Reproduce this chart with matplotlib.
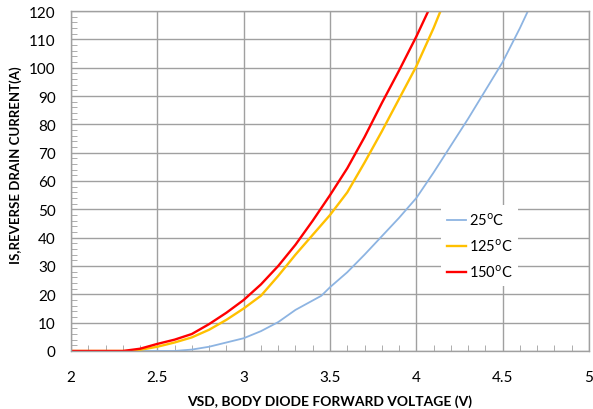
import matplotlib.pyplot as plt
from matplotlib.ticker import MultipleLocator

# forward voltage (V) and reverse drain current (A)
vsd_25 = [2.0, 2.6, 2.7, 2.8, 2.9, 3.0, 3.1, 3.2, 3.3, 3.45, 3.5, 3.6, 3.7, 3.8,
          3.9, 4.0, 4.1, 4.2, 4.3, 4.4, 4.5, 4.6, 4.7]
is_25 = [0, 0, 0.5, 1.5, 3, 4.5, 7, 10.2, 14.5, 19.5, 22.5, 27.8, 34, 40.5,
         47, 54, 63, 72.5, 82, 92, 102, 114, 127]

vsd_125 = [2.0, 2.35, 2.4, 2.5, 2.6, 2.7, 2.8, 2.9, 3.0, 3.1, 3.2, 3.3, 3.4,
           3.5, 3.6, 3.7, 3.8, 3.9, 4.0, 4.1, 4.2]
is_125 = [0, 0, 0.4, 1.5, 3, 4.8, 7.5, 11, 15, 19.5, 26.5, 34, 41, 48,
          56, 66.5, 77.5, 89, 100.5, 114, 129]

vsd_150 = [2.0, 2.3, 2.4, 2.5, 2.6, 2.7, 2.8, 2.9, 3.0, 3.1, 3.2, 3.3, 3.4,
           3.5, 3.6, 3.7, 3.8, 3.9, 4.0, 4.1]
is_150 = [0, 0, 0.8, 2.5, 4, 6, 9.5, 13.5, 18, 23.5, 30, 37.5, 46,
          55, 64.5, 75.5, 87.5, 99, 111, 124]

fig = plt.figure(figsize=(5.93, 4.10), dpi=100)
ax = fig.add_axes([0.1197, 0.1415, 0.8736, 0.8292])

ax.plot(vsd_25, is_25, color='#8DB4E2', lw=1.3, label='25$^{\\mathrm{o}}$C')
ax.plot(vsd_125, is_125, color='#FFC000', lw=1.7, label='125$^{\\mathrm{o}}$C')
ax.plot(vsd_150, is_150, color='#FF0000', lw=1.7, label='150$^{\\mathrm{o}}$C')

ax.set_xlim(2, 5)
ax.set_ylim(0, 120)
ax.xaxis.set_major_locator(MultipleLocator(0.5))
ax.xaxis.set_minor_locator(MultipleLocator(0.1))
ax.yaxis.set_major_locator(MultipleLocator(10))
ax.yaxis.set_minor_locator(MultipleLocator(2))
ax.set_xticks([2, 2.5, 3, 3.5, 4, 4.5, 5], ['2', '2.5', '3', '3.5', '4', '4.5', '5'])

ax.grid(True, which='major', color='#A0A0A0', lw=1)
ax.set_axisbelow(True)
for s in ax.spines.values():
    s.set_color('#A0A0A0')
    s.set_linewidth(1)
ax.tick_params(which='major', length=0, labelsize=11, pad=11, labelcolor='black')
ax.tick_params(which='minor', direction='in', length=4, color='#A0A0A0')
ax.tick_params(axis='x', which='major', pad=14)

font = ['Lato', 'DejaVu Sans']
for lbl in ax.get_xticklabels() + ax.get_yticklabels():
    lbl.set_family(font)

ax.set_xlabel('VSD, BODY DIODE FORWARD VOLTAGE (V)', fontsize=10,
              fontweight='bold', family=font, labelpad=7)
ax.set_ylabel('IS,REVERSE DRAIN CURRENT(A)', fontsize=9.5,
              fontweight='bold', family=font, va='center')
ax.yaxis.set_label_coords(-0.106, 0.55)

leg = ax.legend(loc='upper left', bbox_to_anchor=(0.7, 0.45), frameon=True,
                fancybox=False, edgecolor='none', facecolor='white', framealpha=1,
                handlelength=1.3, handletextpad=0.2, labelspacing=0.65,
                borderpad=0.4, prop={'family': font, 'size': 10.5})

fig.savefig('out.png', dpi=100)
